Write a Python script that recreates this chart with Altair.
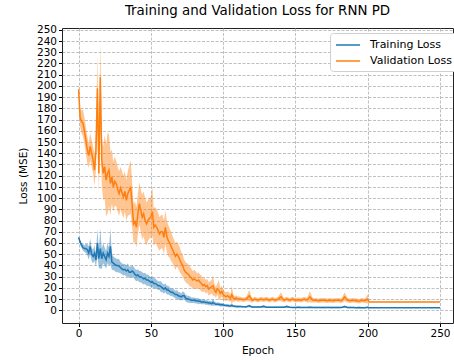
import altair as alt
import pandas as pd

# Epochs at which the curves were logged (every epoch early on, every other
# epoch later, then a flat tail to the end of training).
EPOCHS = list(range(0, 111)) + list(range(112, 201, 2)) + [201, 250]

TRAIN_MEAN = [
    65, 61, 58, 56, 55, 55, 54, 51, 57, 50,
    48, 51, 45, 60, 46, 55, 46, 51, 48, 45,
    51, 48, 57, 43, 42, 41, 40, 40, 39.5, 38,
    37, 36, 36.5, 35, 36, 34, 34, 35, 34, 32,
    31, 31.5, 30, 30, 29, 28, 28.5, 27, 27, 26,
    25, 25.5, 24, 24, 23, 22, 22, 21, 20, 19,
    20, 18, 18, 17, 16, 16, 15, 14, 14, 13,
    12.5, 12, 13, 13, 11, 10, 10, 9.5, 9, 9,
    9, 8.5, 8.5, 8, 8, 7.5, 7.5, 7.5, 7, 7,
    6.5, 6.5, 6, 7, 6, 5.5, 5.5, 5.4, 5, 5,
    4.8, 4.5, 4.3, 4.2, 4, 3.9, 4.5, 3.8, 3.6, 3.5, 3.4,
    # 112 .. 200, every other epoch
    3.3, 3.2, 3.1, 4.0, 3.0, 3.0, 2.9, 2.9, 3.6, 2.8,
    2.8, 2.8, 2.7, 2.8, 2.7, 2.7, 3.4, 2.7, 2.6, 2.6,
    2.7, 2.6, 2.6, 2.6, 2.7, 2.6, 2.5, 2.6, 2.5, 2.5,
    2.6, 2.5, 2.5, 2.5, 2.5, 2.6, 3.3, 2.5, 2.5, 2.5,
    2.4, 2.5, 2.4, 2.4, 2.8,
    # 201, 250
    2.3, 2.3,
]

TRAIN_STD = [
    1, 2, 2, 3, 3, 4, 5, 6, 7, 6,
    6, 7, 6, 12, 8, 18, 9, 9, 8, 8,
    9, 8, 16, 7, 6, 6, 6, 6, 6, 5,
    5, 5, 5, 5, 6, 5, 5, 5, 5, 5,
    5, 5, 5, 5, 5, 5, 5, 5, 5, 4.5,
    4.5, 5, 4.5, 4.5, 4, 4, 4, 5, 4, 4,
    4, 4, 4, 3.5, 3.5, 3.5, 3.5, 3.5, 4, 3.5,
    3.5, 3, 4, 3, 3, 3, 3, 3, 2.5, 2.5,
    2.5, 2.5, 2.5, 2.5, 2.2, 2.2, 2.2, 2.2, 2, 2,
    2, 2, 2, 3, 1.8, 1.5, 1.5, 1.5, 1.5, 1.5,
    1.5, 1.2, 1.2, 1.2, 1.2, 1.2, 1.8, 1, 1, 1, 1,
    0.8, 0.7, 0.7, 1.2, 0.7, 0.7, 0.7, 0.7, 1.2, 0.6,
    0.6, 0.6, 0.6, 0.6, 0.6, 0.6, 1.1, 0.6, 0.6, 0.6,
    0.6, 0.6, 0.6, 0.6, 0.6, 0.6, 0.6, 0.6, 0.6, 0.6,
    0.6, 0.6, 0.6, 0.6, 0.6, 0.6, 1.0, 0.6, 0.6, 0.6,
    0.6, 0.6, 0.6, 0.6, 0.7,
    0, 0,
]

VAL_MEAN = [
    197, 172, 168, 167, 160, 152, 143, 138, 146, 140,
    134, 125, 143, 198, 122, 208, 134, 122, 128, 116,
    122, 125, 113, 119, 110, 115, 113, 108, 104, 109,
    105, 101, 106, 98, 104, 107, 110, 95, 77, 79,
    74, 86, 95, 89, 83, 86, 80, 77, 80, 82,
    83, 88, 74, 76, 74, 71, 68, 70, 70, 65,
    74, 66, 62, 60, 57, 54, 51, 48, 50, 48,
    45, 42, 40, 36, 34, 33, 32, 30, 29, 27,
    28, 27, 26, 27, 25, 24, 22, 23, 21, 22,
    19, 20, 21, 22, 18, 16, 19, 18, 15, 17,
    14, 13, 12, 13, 12, 11, 14, 11, 10, 11, 10,
    10, 9.5, 10, 13, 9, 10, 9, 10, 9.5, 10,
    9, 10, 9, 10, 12, 9, 10, 9, 10, 9,
    9.5, 9, 10, 9, 12, 9, 9, 8.5, 9, 9,
    8.5, 9, 8.5, 9, 9, 8.5, 12, 9, 8.5, 9,
    8.5, 8, 9, 8.5, 10,
    7.4, 7.4,
]

VAL_STD = [
    3, 8, 10, 12, 12, 12, 12, 11, 12, 12,
    12, 14, 18, 30, 18, 32, 22, 24, 28, 32,
    36, 32, 28, 24, 22, 22, 20, 20, 20, 19,
    19, 19, 18, 18, 20, 22, 24, 20, 18, 18,
    18, 18, 19, 19, 20, 20, 20, 19, 18, 18,
    18, 22, 17, 16, 16, 16, 15, 15, 15, 15,
    15, 14, 14, 13, 13, 12, 12, 12, 11, 11,
    11, 10, 10, 9, 9, 9, 9, 9, 8, 8,
    8, 8, 7, 7, 7, 7, 6, 6, 6, 6,
    6, 6, 6, 9, 5, 5, 5, 9, 5, 5,
    5, 4, 4, 4, 4, 3, 8, 3, 2.5, 2.5, 2.5,
    2, 2, 2, 5, 2, 2, 2, 2, 2, 2,
    2, 2, 2, 2, 4, 2, 2, 2, 2, 2,
    2, 2, 2, 2, 5, 2, 2, 2, 2, 2,
    2, 2, 2, 2, 2, 2, 4, 2, 2, 2,
    2, 2, 2, 2, 4,
    0, 0,
]

SERIES = ["Training Loss", "Validation Loss"]
COLORS = ["#1f77b4", "#ff7f0e"]
X_TICKS = [0, 50, 100, 150, 200, 250]
Y_TICKS = list(range(0, 251, 10))

FONT = "DejaVu Sans"

frames = []
for name, mean, std in [(SERIES[0], TRAIN_MEAN, TRAIN_STD),
                        (SERIES[1], VAL_MEAN, VAL_STD)]:
    frames.append(pd.DataFrame({
        "epoch": EPOCHS,
        "mean": mean,
        "lo": [m - s for m, s in zip(mean, std)],
        "hi": [m + s for m, s in zip(mean, std)],
        "series": name,
    }))
df = pd.concat(frames, ignore_index=True)

x_enc = alt.X(
    "epoch:Q",
    scale=alt.Scale(domain=[-11.5, 259], nice=False, zero=False),
    axis=alt.Axis(values=X_TICKS, title="Epoch", titlePadding=6),
)
y_scale = alt.Scale(domain=[-11.3, 251.6], nice=False, zero=False)
y_axis = alt.Axis(values=Y_TICKS, title="Loss (MSE)", titlePadding=8)

legend = alt.Legend(
    title=None,
    orient="none",
    legendX=268,
    legendY=5,
    symbolType="M-2,0H2",
    symbolSize=144,
    symbolStrokeWidth=1.5,
    symbolOpacity=1,
    symbolOffset=6,
    labelOffset=15,
    labelFont=FONT,
    labelFontSize=11,
    labelColor="#000000",
    rowPadding=4,
    padding=5,
    fillColor="#ffffff",
    strokeColor="#d0d0d0",
    cornerRadius=3,
)
color_enc = alt.Color("series:N", scale=alt.Scale(domain=SERIES, range=COLORS),
                      legend=legend)

base = alt.Chart(df)

# shaded spread around each mean curve
band = base.mark_area(opacity=0.45, clip=True).encode(
    x=x_enc,
    y=alt.Y("lo:Q", scale=y_scale, axis=y_axis, stack=None),
    y2="hi:Q",
    color=color_enc,
    detail="series:N",
)

# mean curves
line = base.mark_line(strokeWidth=1.5, clip=True).encode(
    x=x_enc,
    y=alt.Y("mean:Q", scale=y_scale, axis=y_axis),
    color=color_enc,
)

chart = (
    alt.layer(band, line)
    .properties(
        width=391,
        height=295,
        title=alt.TitleParams(
            "Training and Validation Loss for RNN PD",
            font=FONT,
            fontSize=13.4,
            fontWeight="normal",
            color="#000000",
            anchor="middle",
            offset=7,
        ),
        padding={"left": 62, "top": 28, "right": 1, "bottom": 37},
        autosize=alt.AutoSizeParams(type="none"),
        background="#ffffff",
    )
    .configure_view(stroke="#222222", strokeWidth=1)
    .configure_axis(
        labelFont=FONT,
        labelFontSize=10.5,
        labelColor="#000000",
        titleFont=FONT,
        titleFontSize=10.5,
        titleFontWeight="normal",
        titleColor="#000000",
        tickColor="#000000",
        tickSize=3.5,
        labelPadding=2,
        domain=False,
        grid=True,
        gridColor="#b0b0b0",
        gridDash=[3, 1.5],
        gridWidth=0.8,
    )
)

chart.save("out.html", embed_options={"renderer": "svg", "actions": False})
